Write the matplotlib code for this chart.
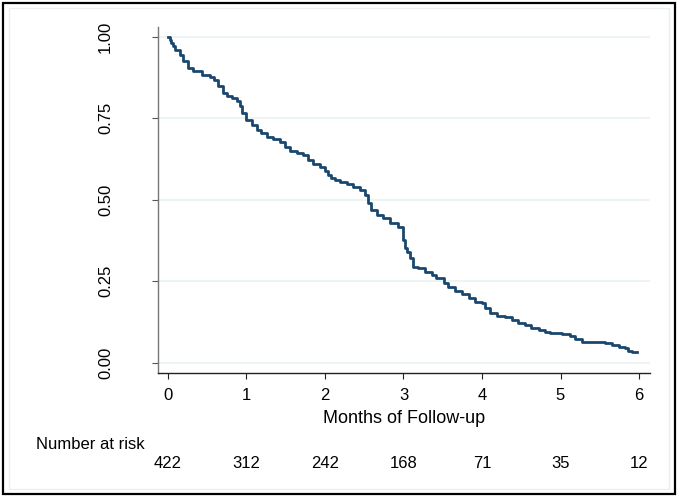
import matplotlib
matplotlib.use("Agg")
import matplotlib.pyplot as plt
from matplotlib.patches import Rectangle
from matplotlib.transforms import blended_transform_factory

# Kaplan-Meier estimate (months, survival)
months = [0, 0.02, 0.04, 0.06, 0.09, 0.15, 0.19, 0.26, 0.32, 0.43, 0.54, 0.58,
          0.64, 0.70, 0.75, 0.81, 0.875, 0.92, 0.94, 0.99, 1.07, 1.13, 1.19,
          1.26, 1.34, 1.43, 1.49, 1.55, 1.64, 1.72, 1.79, 1.85, 1.94, 2.00,
          2.04, 2.08, 2.13, 2.19, 2.28, 2.36, 2.45, 2.51, 2.55, 2.59, 2.66,
          2.74, 2.83, 2.93, 2.99, 3.00, 3.02, 3.04, 3.08, 3.12, 3.19, 3.27,
          3.36, 3.42, 3.51, 3.57, 3.66, 3.74, 3.83, 3.91, 4.00, 4.04, 4.10,
          4.19, 4.29, 4.38, 4.46, 4.55, 4.63, 4.72, 4.80, 4.86, 5.02, 5.12,
          5.18, 5.27, 5.57, 5.65, 5.74, 5.82, 5.86, 5.91, 5.98]
survival = [1.000, 0.990, 0.980, 0.970, 0.960, 0.945, 0.925, 0.904, 0.894,
            0.883, 0.875, 0.868, 0.848, 0.827, 0.817, 0.812, 0.802, 0.786,
            0.766, 0.745, 0.729, 0.714, 0.704, 0.693, 0.685, 0.678, 0.663,
            0.650, 0.644, 0.637, 0.621, 0.609, 0.601, 0.589, 0.576, 0.567,
            0.560, 0.555, 0.548, 0.540, 0.530, 0.514, 0.489, 0.468, 0.453,
            0.443, 0.429, 0.415, 0.405, 0.376, 0.351, 0.340, 0.320, 0.294,
            0.290, 0.279, 0.269, 0.259, 0.245, 0.233, 0.221, 0.211, 0.198,
            0.187, 0.184, 0.167, 0.153, 0.143, 0.139, 0.131, 0.123, 0.116,
            0.106, 0.100, 0.095, 0.090, 0.088, 0.082, 0.072, 0.064, 0.060,
            0.053, 0.047, 0.044, 0.037, 0.034, 0.034]

x_ticks = [0, 1, 2, 3, 4, 5, 6]
y_ticks = [0.0, 0.25, 0.5, 0.75, 1.0]
y_labels = ["0.00", "0.25", "0.50", "0.75", "1.00"]
at_risk = [422, 312, 242, 168, 71, 35, 12]

W, H = 678, 498
plt.rcParams['font.family'] = ['Liberation Sans', 'DejaVu Sans']

fig = plt.figure(figsize=(W / 100, H / 100), dpi=100)
fig.patch.set_facecolor('white')

# outer black frame and faint inner frame (Stata style)
fig.add_artist(Rectangle((3 / W, 4 / H), 672 / W, 491 / H, transform=fig.transFigure,
                         fill=False, edgecolor='black', linewidth=1.6))
fig.add_artist(Rectangle((8.5 / W, 9.5 / H), 660 / W, 480 / H, transform=fig.transFigure,
                         fill=False, edgecolor='#eaf0f2', linewidth=1.0))

left, right, top, bottom = 158, 650, 26.7, 372.7
ax = fig.add_axes([left / W, 1 - bottom / H, (right - left) / W, (bottom - top) / H])

ax.step(months, survival, where='post', color='#1a476f', linewidth=2.0)

ax.set_xlim(-0.127, 6.14)
ax.set_ylim(-0.0307, 1.0307)
ax.set_xticks(x_ticks)
ax.set_yticks(y_ticks)
ax.set_yticklabels(y_labels)
for y in y_ticks:
    ax.axhline(y, color='#eaf2f3', linewidth=1.2, zorder=0)

for s in ['top', 'right']:
    ax.spines[s].set_visible(False)
ax.spines['left'].set_color('#777777')
ax.spines['bottom'].set_color('#222222')
ax.spines['left'].set_linewidth(1.0)
ax.spines['bottom'].set_linewidth(1.0)

ax.tick_params(axis='y', direction='out', length=4.3, width=0.8, color='#555555',
               labelsize=12, pad=28, labelrotation=90)
for lab in ax.get_yticklabels():
    lab.set_va('center')
ax.tick_params(axis='x', direction='out', length=4.3, width=0.8, color='#222222',
               labelsize=12, pad=6.5)

ax.set_xlabel('Months of Follow-up', fontsize=13, labelpad=5)

# number at risk table
fig.text(36 / W, 1 - 444 / H, 'Number at risk', fontsize=12, ha='left', va='center')
trans = blended_transform_factory(ax.transData, fig.transFigure)
for x, n in zip(x_ticks, at_risk):
    ax.text(x, 1 - 463 / H, str(n), transform=trans, fontsize=12,
            ha='center', va='center', clip_on=False)

fig.savefig('out.png', dpi=100, facecolor='white')
